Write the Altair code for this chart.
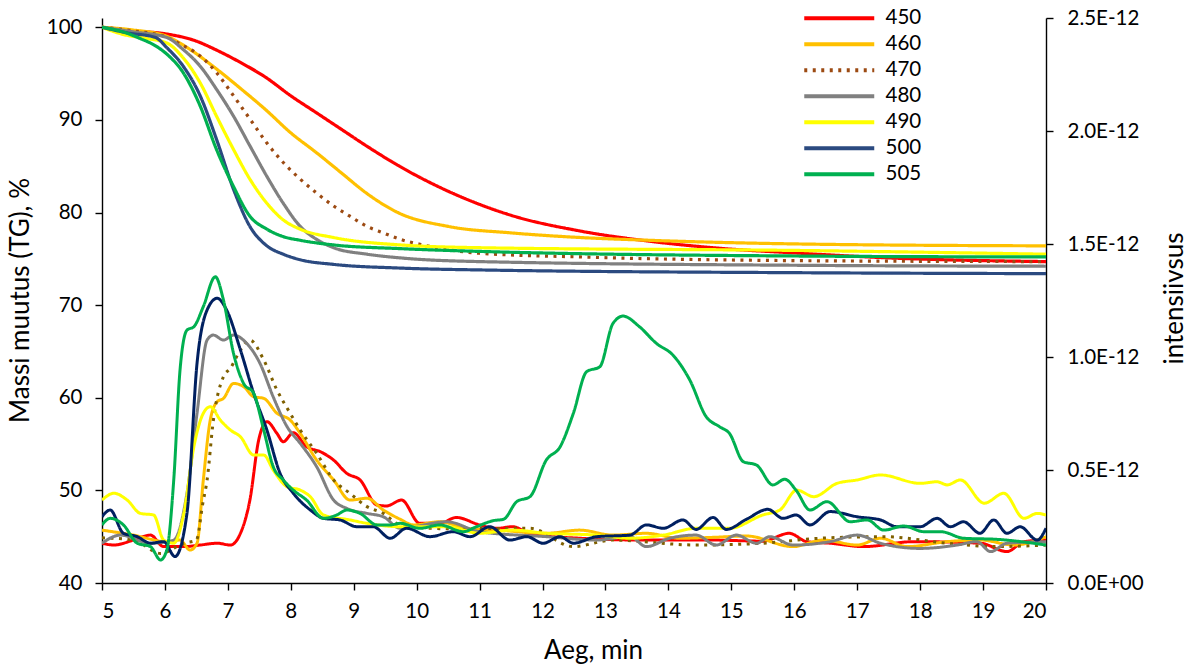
import altair as alt
import pandas as pd

SERIES = ["450", "460", "470", "480", "490", "500", "505"]
TG_COLORS = ["#FF0000", "#FFC000", "#9C4A12", "#808080", "#FFFF00", "#2B4A80", "#00B050"]
MS_COLORS = ["#FF0000", "#FFC000", "#7F6000", "#808080", "#FFFF00", "#002060", "#00B050"]
DASHES = [[1, 0], [1, 0], [3, 5.5], [1, 0], [1, 0], [1, 0], [1, 0]]

X_TICKS = list(range(5, 21))
LEFT_TICKS = [40, 50, 60, 70, 80, 90, 100]
RIGHT_TICKS = [0.0, 0.5e-12, 1.0e-12, 1.5e-12, 2.0e-12, 2.5e-12]

# TG (mass change, %) : (time min, value)
TG_450 = [(5.0, 100), (5.5, 99.6), (6.0, 99.3), (6.5, 98.5), (6.8, 97.6), (7.2, 96.2), (7.6, 94.6),
          (8.0, 92.6), (8.4, 90.8), (8.8, 89.0), (9.2, 87.2), (9.7, 85.1), (10.5, 82.3), (11.5, 79.7),
          (12.6, 78.0), (13.7, 76.9), (14.7, 76.2), (16.1, 75.6), (17.5, 75.1), (20.0, 74.7)]
TG_460 = [(5.0, 100), (5.5, 99.7), (6.0, 99.1), (6.4, 97.6), (6.8, 95.6), (7.2, 93.4), (7.6, 91.1),
          (8.0, 88.6), (8.4, 86.5), (8.8, 84.3), (9.2, 82.1), (9.7, 80.0), (10.5, 78.5), (11.5, 77.8),
          (12.6, 77.3), (13.7, 77.0), (16.1, 76.6), (20.0, 76.4)]
TG_470 = [(5.0, 100), (5.5, 99.6), (6.0, 99.0), (6.24, 98.2), (6.56, 96.9), (6.82, 95.1), (7.09, 92.6),
          (7.35, 90.1), (7.62, 87.5), (7.88, 85.4), (8.15, 83.6), (8.41, 82.1), (8.68, 80.7), (8.94, 79.6),
          (9.21, 78.5), (9.47, 77.8), (9.74, 77.1), (10.1, 76.5), (11.0, 75.6), (12.6, 75.2), (16.1, 74.8),
          (20.0, 74.7)]
TG_480 = [(5.0, 100), (5.5, 99.5), (6.03, 98.9), (6.29, 97.6), (6.56, 95.8), (6.82, 93.3), (7.09, 90.4),
          (7.35, 87.2), (7.62, 83.9), (7.88, 81.0), (8.15, 78.5), (8.41, 77.1), (8.68, 76.2), (9.21, 75.5),
          (9.74, 75.1), (11.0, 74.7), (16.1, 74.3), (20.0, 74.2)]
TG_490 = [(5.0, 100), (5.35, 99.2), (5.7, 98.8), (6.03, 98.3), (6.29, 96.7), (6.56, 94.0), (6.82, 90.4),
          (7.09, 86.8), (7.35, 83.6), (7.62, 81.0), (7.88, 79.2), (8.15, 78.2), (8.68, 77.3), (9.74, 76.5),
          (11.0, 76.2), (16.1, 75.9), (20.0, 75.5)]
TG_500 = [(5.0, 100), (5.4, 99.4), (5.85, 98.9), (6.03, 97.8), (6.29, 95.8), (6.56, 92.6), (6.82, 87.9),
          (7.09, 82.5), (7.35, 78.5), (7.62, 76.4), (7.88, 75.5), (8.15, 74.9), (8.68, 74.4), (9.74, 74.0),
          (11.0, 73.8), (16.1, 73.5), (20.0, 73.4)]
TG_505 = [(5.0, 100), (5.38, 99.4), (5.6, 98.8), (5.85, 98.0), (6.03, 97.1), (6.29, 95.1), (6.56, 91.5),
          (6.82, 86.8), (7.09, 82.8), (7.35, 79.6), (7.62, 78.2), (7.88, 77.4), (8.15, 77.0), (8.68, 76.5),
          (9.74, 76.1), (11.0, 75.8), (16.1, 75.3), (20.0, 75.2)]

# MS intensity, in units of 1E-12 : (time min, value)
MS_450 = [(5.0, 0.176), (5.19, 0.168), (5.5, 0.19), (5.77, 0.212), (5.98, 0.161), (6.3, 0.161), (6.56, 0.168),
          (6.83, 0.176), (7.04, 0.168), (7.2, 0.22), (7.35, 0.367), (7.49, 0.633), (7.62, 0.714), (7.78, 0.662),
          (7.88, 0.625), (8.04, 0.665), (8.25, 0.603), (8.47, 0.581), (8.68, 0.544), (8.89, 0.485), (9.1, 0.456),
          (9.37, 0.345), (9.52, 0.341), (9.76, 0.367), (10.05, 0.264), (10.37, 0.264), (10.63, 0.29), (11.0, 0.257),
          (11.27, 0.242), (11.53, 0.249), (11.8, 0.217), (12.59, 0.198), (13.65, 0.19), (14.7, 0.19), (15.5, 0.185),
          (15.92, 0.22), (16.2, 0.183), (16.57, 0.176), (17.1, 0.161), (17.9, 0.183), (18.96, 0.176), (19.38, 0.139),
          (19.65, 0.183), (20.0, 0.19)]
MS_460 = [(5.0, 0.234), (5.5, 0.212), (6.03, 0.183), (6.24, 0.19), (6.4, 0.146), (6.51, 0.176), (6.61, 0.456),
          (6.72, 0.721), (6.83, 0.802), (6.93, 0.817), (7.09, 0.883), (7.25, 0.869), (7.41, 0.824), (7.57, 0.817),
          (7.78, 0.751), (7.99, 0.721), (8.15, 0.662), (8.41, 0.544), (8.68, 0.456), (8.94, 0.367), (9.21, 0.375),
          (9.47, 0.323), (9.74, 0.282), (9.95, 0.257), (10.37, 0.271), (10.79, 0.242), (11.27, 0.234), (12.06, 0.22),
          (12.59, 0.234), (13.12, 0.212), (13.65, 0.22), (14.18, 0.198), (14.71, 0.202), (15.24, 0.208),
          (15.98, 0.161), (16.46, 0.19), (17.0, 0.168), (17.37, 0.198), (17.79, 0.161), (18.43, 0.183),
          (18.96, 0.19), (19.49, 0.168), (20.0, 0.205)]
MS_470 = [(5.0, 0.2), (5.5, 0.19), (5.93, 0.131), (6.3, 0.176), (6.5, 0.19), (6.6, 0.35), (6.67, 0.456),
          (6.77, 0.721), (6.93, 0.913), (7.04, 0.95), (7.2, 1.031), (7.35, 1.075), (7.57, 0.987), (7.78, 0.854),
          (7.99, 0.751), (8.15, 0.677), (8.41, 0.574), (8.68, 0.456), (8.94, 0.397), (9.21, 0.338), (9.47, 0.308),
          (9.74, 0.257), (10.5, 0.24), (11.8, 0.242), (12.49, 0.161), (13.12, 0.19), (14.44, 0.168), (15.5, 0.176),
          (16.41, 0.198), (17.42, 0.205), (18.43, 0.176), (19.17, 0.161), (20.0, 0.168)]
MS_480 = [(5.0, 0.176), (5.29, 0.212), (5.77, 0.176), (6.14, 0.19), (6.35, 0.397), (6.51, 0.751), (6.67, 1.075),
          (6.77, 1.097), (6.93, 1.075), (7.09, 1.097), (7.3, 1.06), (7.51, 0.972), (7.72, 0.824), (7.94, 0.692),
          (8.15, 0.618), (8.41, 0.515), (8.68, 0.367), (8.89, 0.33), (9.21, 0.308), (9.47, 0.293), (9.74, 0.242),
          (9.95, 0.249), (10.48, 0.271), (11.0, 0.227), (12.06, 0.205), (12.86, 0.19), (13.39, 0.205),
          (13.65, 0.161), (14.02, 0.198), (14.44, 0.212), (14.76, 0.168), (15.08, 0.212), (15.4, 0.176),
          (15.61, 0.205), (15.98, 0.168), (16.57, 0.183), (17.0, 0.212), (17.37, 0.176), (18.0, 0.153),
          (18.59, 0.168), (18.9, 0.183), (19.12, 0.139), (19.38, 0.176), (20.0, 0.183)]
MS_490 = [(5.0, 0.367), (5.19, 0.397), (5.4, 0.367), (5.61, 0.308), (5.82, 0.301), (5.98, 0.19), (6.14, 0.176),
          (6.3, 0.308), (6.46, 0.603), (6.61, 0.751), (6.72, 0.78), (6.88, 0.721), (7.04, 0.677), (7.2, 0.647),
          (7.41, 0.566), (7.57, 0.566), (7.72, 0.5), (7.94, 0.426), (8.15, 0.411), (8.31, 0.382), (8.52, 0.301),
          (8.94, 0.279), (9.21, 0.264), (9.74, 0.249), (10.48, 0.249), (11.0, 0.22), (11.53, 0.234), (12.06, 0.22),
          (12.86, 0.212), (13.39, 0.198), (13.92, 0.212), (14.44, 0.242), (14.97, 0.242), (15.5, 0.301),
          (15.77, 0.323), (16.04, 0.411), (16.31, 0.382), (16.68, 0.441), (17.0, 0.456), (17.37, 0.478),
          (18.0, 0.441), (18.27, 0.448), (18.43, 0.434), (18.64, 0.456), (19.02, 0.353), (19.33, 0.397),
          (19.65, 0.286), (19.86, 0.308), (20.0, 0.301)]
MS_500 = [(5.0, 0.293), (5.13, 0.323), (5.34, 0.22), (5.56, 0.205), (5.77, 0.176), (5.98, 0.183), (6.16, 0.117),
          (6.35, 0.308), (6.51, 0.972), (6.67, 1.208), (6.83, 1.26), (6.98, 1.208), (7.2, 1.031), (7.41, 0.839),
          (7.62, 0.677), (7.83, 0.485), (8.04, 0.397), (8.31, 0.323), (8.52, 0.286), (8.78, 0.279), (9.05, 0.249),
          (9.31, 0.249), (9.58, 0.198), (9.84, 0.242), (10.21, 0.205), (10.58, 0.227), (10.85, 0.205),
          (11.16, 0.249), (11.48, 0.19), (11.75, 0.205), (12.01, 0.176), (12.28, 0.205), (12.49, 0.176),
          (12.86, 0.205), (13.39, 0.212), (13.65, 0.257), (13.92, 0.242), (14.23, 0.279), (14.44, 0.237),
          (14.71, 0.29), (14.92, 0.237), (15.24, 0.282), (15.58, 0.326), (15.82, 0.286), (16.03, 0.301),
          (16.25, 0.257), (16.57, 0.316), (17.0, 0.293), (17.37, 0.279), (17.63, 0.249), (18.0, 0.249),
          (18.27, 0.286), (18.48, 0.249), (18.69, 0.271), (18.95, 0.22), (19.17, 0.279), (19.38, 0.22),
          (19.59, 0.249), (19.86, 0.19), (20.0, 0.242)]
MS_505 = [(5.0, 0.257), (5.13, 0.286), (5.34, 0.257), (5.56, 0.176), (5.77, 0.161), (5.93, 0.102), (6.03, 0.146),
          (6.14, 0.456), (6.24, 0.943), (6.35, 1.119), (6.46, 1.134), (6.61, 1.223), (6.8, 1.355), (6.93, 1.252),
          (7.09, 1.016), (7.25, 0.883), (7.41, 0.839), (7.57, 0.677), (7.72, 0.515), (7.88, 0.456), (8.04, 0.411),
          (8.25, 0.367), (8.52, 0.286), (8.73, 0.301), (8.89, 0.323), (9.1, 0.308), (9.37, 0.257), (9.58, 0.257),
          (9.74, 0.264), (10.05, 0.242), (10.37, 0.257), (10.74, 0.227), (10.95, 0.249), (11.22, 0.276),
          (11.38, 0.282), (11.59, 0.36), (11.8, 0.382), (12.06, 0.544), (12.28, 0.603), (12.49, 0.751),
          (12.7, 0.935), (12.91, 0.957), (13.12, 1.149), (13.28, 1.181), (13.54, 1.134), (13.81, 1.06),
          (14.07, 1.009), (14.34, 0.898), (14.6, 0.736), (14.81, 0.692), (14.97, 0.662), (15.19, 0.537),
          (15.4, 0.522), (15.66, 0.434), (15.85, 0.459), (16.03, 0.41), (16.25, 0.323), (16.52, 0.36),
          (16.89, 0.271), (17.16, 0.279), (17.42, 0.234), (17.74, 0.252), (18.06, 0.227), (18.33, 0.227),
          (18.69, 0.198), (19.23, 0.193), (20.0, 0.168)]

TG_ALL = [TG_450, TG_460, TG_470, TG_480, TG_490, TG_500, TG_505]
MS_ALL = [MS_450, MS_460, MS_470, MS_480, MS_490, MS_500, MS_505]

tg_rows, ms_rows = [], []
for name, pts in zip(SERIES, TG_ALL):
    for t, v in pts:
        tg_rows.append({"t": t, "mass": v, "series": name})
for name, pts in zip(SERIES, MS_ALL):
    for t, v in pts:
        ms_rows.append({"t": t, "inten": v * 1e-12, "series": name})
df_tg = pd.DataFrame(tg_rows)
df_ms = pd.DataFrame(ms_rows)

FONT = "Lato"
FS = 20.5
TFS = 26
W, H = 944, 565

x_enc = alt.X("t:Q", scale=alt.Scale(domain=[5, 20], nice=False, zero=False),
              axis=alt.Axis(values=X_TICKS, format="d", title="Aeg, min", labelPadding=11,
                            titleX=491, titleY=67, titleBaseline="middle", titleAnchor="middle"))

# legend line: a custom horizontal path, 70 px long
legend = alt.Legend(title=None, orient="none", legendX=697, legendY=-10, padding=0,
                    symbolType="M-1,0H13", symbolSize=100, symbolStrokeWidth=4,
                    labelFont=FONT, labelFontSize=FS, labelColor="black", rowPadding=5,
                    labelOffset=66)

tg = alt.Chart(df_tg).mark_line(strokeWidth=3.2, interpolate="monotone", clip=True).encode(
    x=x_enc,
    y=alt.Y("mass:Q", scale=alt.Scale(domain=[40, 101], nice=False, zero=False),
            axis=alt.Axis(orient="left", values=LEFT_TICKS, title="Massi muutus (TG), %",
                          labelPadding=13, titleX=-82, titleY=282, titleBaseline="middle",
                          titleAngle=270)),
    color=alt.Color("series:N", scale=alt.Scale(domain=SERIES, range=TG_COLORS), legend=legend),
    strokeDash=alt.StrokeDash("series:N", scale=alt.Scale(domain=SERIES, range=DASHES), legend=legend),
)

ms = alt.Chart(df_ms).mark_line(strokeWidth=3, interpolate="monotone", clip=True).encode(
    x=alt.X("t:Q"),
    y=alt.Y("inten:Q", scale=alt.Scale(domain=[0, 2.5e-12], nice=False, zero=False),
            axis=alt.Axis(orient="right", values=RIGHT_TICKS, title="intensiivsus",
                          labelExpr="datum.value == 0 ? '0.0E+00' : format(datum.value * 1e12, '.1f') + 'E-12'",
                          labelPadding=14, titleX=128, titleY=280, titleBaseline="middle",
                          titleAngle=270)),
    color=alt.Color("series:N", scale=alt.Scale(domain=SERIES, range=MS_COLORS), legend=None),
    strokeDash=alt.StrokeDash("series:N", scale=alt.Scale(domain=SERIES, range=DASHES), legend=None),
)

chart = alt.layer(tg, ms).resolve_scale(
    y="independent", color="independent", strokeDash="independent"
).properties(
    width=W, height=H,
    padding={"left": 102, "top": 18, "right": 1188 - 102 - W, "bottom": 666 - 18 - H},
    autosize=alt.AutoSizeParams(type="none"),
).configure_view(stroke=None).configure_axis(
    grid=False, domainColor="black", tickColor="black", domainWidth=1.4, tickWidth=1.4, tickSize=7,
    labelFont=FONT, labelFontSize=FS, labelColor="black",
    titleFont=FONT, titleFontSize=TFS, titleFontWeight="normal", titleColor="black",
)

chart.save("out.html", embed_options={"renderer": "svg", "actions": False})
